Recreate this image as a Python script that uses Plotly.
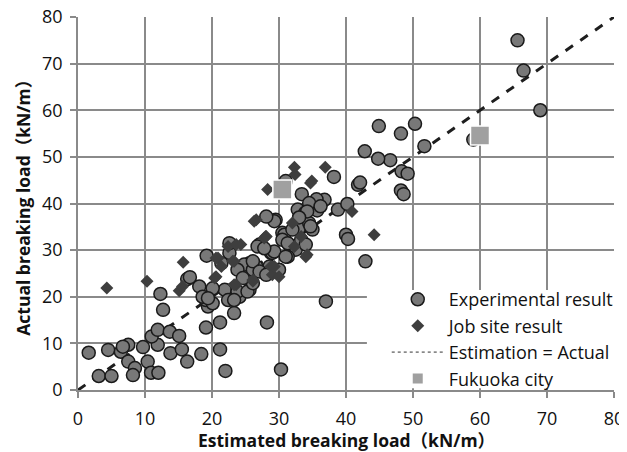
import plotly.graph_objects as go

exp_x = [65.6, 66.5, 69.0, 59.0, 51.7, 50.3, 48.2, 44.9, 46.6, 44.8, 48.3, 49.2, 48.2, 48.6,
         42.8, 41.8, 42.1, 38.2, 33.4, 36.8, 35.6, 35.7, 38.8, 40.2, 32.8, 33.9, 29.5, 30.5,
         40.0, 40.3, 31.0, 42.9, 37.0, 28.2, 30.3, 22.0, 21.2, 18.4, 19.1, 21.2, 23.3, 19.4,
         18.1, 1.6, 3.1, 5.0, 4.5, 6.4, 7.5, 6.7, 7.5, 8.5, 8.2, 9.7, 10.4, 10.9, 12.0, 11.9,
         11.0, 11.9, 13.7, 15.1, 13.8, 15.5, 16.3, 12.7, 12.3, 16.3, 16.7, 19.2, 19.1, 20.1,
         18.6, 21.9, 22.4, 24.1, 25.6, 27.1, 25.6, 26.6, 22.6, 25.1, 28.3, 28.8, 34.5, 29.3,
         28.1, 30.8, 33.0, 34.5, 35.0, 31.5, 32.5, 33.3, 24.8, 26.1, 28.6, 30.0, 34.7, 21.4,
         23.8, 26.1, 26.8, 29.0, 30.5, 31.3, 22.6, 20.1, 23.8, 25.3, 26.1, 19.4, 23.3, 24.6,
         27.1, 28.1, 36.2, 34.2, 32.0, 31.3, 34.0, 29.3, 27.8, 31.0, 33.0]
exp_y = [75.0, 68.5, 60.0, 53.7, 52.3, 57.1, 55.0, 56.6, 49.3, 49.6, 46.9, 46.4, 42.8, 42.0,
         51.2, 44.0, 44.5, 45.7, 42.0, 40.8, 40.9, 38.5, 38.7, 39.9, 38.7, 38.0, 36.5, 33.7,
         33.3, 32.4, 44.8, 27.6, 19.0, 14.5, 4.4, 4.1, 8.7, 7.7, 13.4, 14.5, 16.5, 17.9,
         22.2, 8.0, 3.0, 3.0, 8.6, 8.2, 9.7, 9.3, 6.1, 4.7, 3.2, 9.2, 6.1, 3.7, 3.7, 9.7,
         11.5, 12.9, 12.5, 11.6, 7.9, 8.7, 6.1, 17.2, 20.6, 23.8, 24.2, 28.8, 19.3, 18.6,
         20.0, 21.5, 19.3, 20.0, 21.5, 31.2, 27.2, 26.5, 29.4, 25.1, 25.8, 29.4, 40.1, 36.2,
         37.2, 33.3, 34.7, 35.8, 34.4, 31.2, 30.1, 32.2, 26.9, 25.8, 26.5, 25.8, 35.1, 27.2,
         25.8, 27.6, 30.8, 29.4, 32.2, 28.6, 31.5, 21.8, 21.1, 21.1, 22.9, 19.7, 19.3, 24.0,
         25.4, 24.7, 39.4, 38.3, 34.4, 31.5, 31.2, 29.7, 30.4, 28.6, 37.0]

job_x = [4.3, 10.3, 15.7, 15.1, 15.6, 20.4, 20.9, 22.4, 24.3, 21.4, 23.3, 23.6, 26.1, 26.3,
         28.0, 32.3, 36.9, 34.9, 32.4, 40.9, 44.2, 28.3, 26.6, 27.8, 34.2, 28.8, 29.0, 20.6,
         23.1, 23.6, 29.3, 30.0, 20.6, 23.3, 26.1, 34.7, 32.0, 33.3, 32.3, 34.0, 28.1]
job_y = [21.9, 23.3, 27.4, 21.3, 22.2, 24.0, 28.3, 30.8, 31.2, 26.5, 27.6, 22.6, 23.3, 36.2,
         32.9, 47.8, 47.8, 44.8, 46.2, 38.3, 33.3, 43.0, 36.5, 32.6, 29.0, 26.5, 24.7, 28.3,
         27.6, 31.2, 26.5, 24.3, 24.3, 22.6, 23.6, 44.4, 35.8, 32.9, 30.8, 28.6, 32.9]

line_x = [0, 80]
line_y = [0, 80]

fuk_x = [30.5, 60.0]
fuk_y = [43.0, 54.6]

x_ticks = [0, 10, 20, 30, 40, 50, 60, 70, 80]
y_ticks = [0, 10, 20, 30, 40, 50, 60, 70, 80]

x_title = "Estimated breaking load（kN/m）"
y_title = "Actual breaking load（kN/m）"

FONT = "Open Sans, Noto Sans CJK JP, sans-serif"
GRID = "#8a8a8a"

fig = go.Figure()
fig.add_trace(go.Scatter(x=line_x, y=line_y, mode="lines", showlegend=False,
                         line=dict(color="#1e1e1e", width=3, dash="dash")))
fig.add_trace(go.Scatter(x=exp_x, y=exp_y, mode="markers", name="Experimental result",
                         marker=dict(symbol="circle", size=13, color="#787878",
                                     line=dict(color="#1a1a1a", width=1.5))))
fig.add_trace(go.Scatter(x=job_x, y=job_y, mode="markers", name="Job site result",
                         marker=dict(symbol="diamond", size=10, color="#3e3e3e",
                                     line=dict(width=0))))
fig.add_trace(go.Scatter(x=fuk_x, y=fuk_y, mode="markers", showlegend=False,
                         marker=dict(symbol="square", size=19, color="#a0a0a0",
                                     line=dict(color="white", width=1.5))))
# legend-only entries
fig.add_trace(go.Scatter(x=[None], y=[None], mode="lines", name="Estimation = Actual",
                         line=dict(color="#333333", width=1, dash="dot")))
fig.add_trace(go.Scatter(x=[None], y=[None], mode="markers", name="Fukuoka city",
                         marker=dict(symbol="square", size=10, color="#a0a0a0")))

# page body has an 8px margin: size the figure so it fits the 627x452 window
fig.update_layout(
    width=619, height=444,
    margin=dict(l=70, r=11, t=9, b=62),
    paper_bgcolor="white", plot_bgcolor="white",
    font=dict(family=FONT, size=17, color="#111111"),
    legend=dict(x=0.576, y=-0.019, xanchor="left", yanchor="bottom",
                bgcolor="rgba(0,0,0,0)", borderwidth=0, itemwidth=52,
                font=dict(family=FONT, size=18, color="#111111"),
                tracegroupgap=0),
    shapes=[dict(type="rect", xref="paper", yref="paper", x0=0.539, x1=1.0,
                 y0=0.005, y1=0.268, fillcolor="white", line=dict(width=0),
                 layer="above")],
    annotations=[
        dict(text="<b>" + x_title + "</b>", xref="paper", yref="paper",
             x=0.5, y=-0.134, xanchor="center", yanchor="middle", showarrow=False,
             font=dict(family=FONT, size=17.5, color="#111111")),
        dict(text="<b>" + y_title + "</b>", xref="paper", yref="paper",
             x=-0.104, y=0.5, xanchor="center", yanchor="middle", showarrow=False,
             textangle=-90, font=dict(family=FONT, size=17.5, color="#111111")),
    ],
)
fig.update_xaxes(range=[0, 80], tickvals=x_ticks, ticktext=[str(v) for v in x_ticks],
                 automargin=False, ticklabeloverflow="allow", ticklabelstandoff=6,
                 showgrid=True, gridcolor=GRID, gridwidth=1.5,
                 showline=True, linecolor=GRID, linewidth=1.5,
                 ticks="outside", ticklen=6, tickcolor=GRID, tickwidth=1.5,
                 zeroline=False, tickfont=dict(size=18))
fig.update_yaxes(range=[0, 80], tickvals=y_ticks, ticktext=[str(v) for v in y_ticks],
                 automargin=False, ticklabeloverflow="allow", ticklabelstandoff=4,
                 showgrid=True, gridcolor=GRID, gridwidth=1.5,
                 showline=True, linecolor=GRID, linewidth=1.5,
                 ticks="outside", ticklen=6, tickcolor=GRID, tickwidth=1.5,
                 zeroline=False, tickfont=dict(size=18))

fig.write_html("out.html")
